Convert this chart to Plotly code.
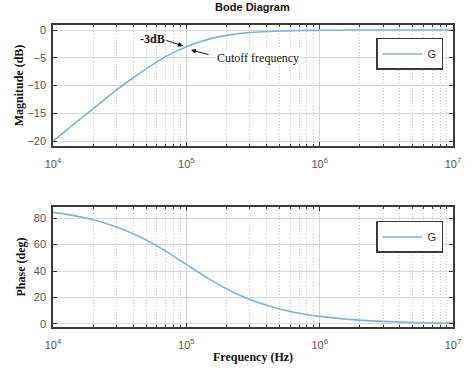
import plotly.graph_objects as go
from plotly.subplots import make_subplots

# --- data ---
freq_mag = [1e4, 1.5e4, 2e4, 3e4, 4e4, 5e4, 7e4, 1e5, 1.5e5, 2e5, 3e5, 5e5, 7e5, 1e6, 2e6, 5e6, 1e7]
mag_db = [-20.0, -16.6, -14.2, -10.8, -8.6, -7.0, -4.8, -3.0, -1.6, -0.97, -0.46, -0.17, -0.09, -0.04, -0.01, 0.0, 0.0]

freq_ph = [1e4, 1.5e4, 2e4, 3e4, 4e4, 5e4, 7e4, 1e5, 1.5e5, 2e5, 3e5, 5e5, 7e5, 1e6, 2e6, 5e6, 1e7]
phase_deg = [84.3, 81.5, 78.7, 73.3, 68.2, 63.4, 55.0, 45.0, 33.7, 26.6, 18.4, 11.3, 8.1, 5.7, 2.9, 1.1, 0.6]

decades = [4, 5, 6, 7]
decade_labels = ["10<sup>4</sup>", "10<sup>5</sup>", "10<sup>6</sup>", "10<sup>7</sup>"]
mag_ticks = [-20, -15, -10, -5, 0]
phase_ticks = [0, 20, 40, 60, 80]

line_color = "#7fb3da"
frame = "#3a3a3a"
grid = "#d6d6d6"
serif = "Liberation Serif, Times New Roman, serif"
sans = "Liberation Sans, Arial, sans-serif"

fig = make_subplots(rows=2, cols=1)

fig.add_trace(go.Scatter(x=freq_mag, y=mag_db, mode="lines", name="G",
                         line=dict(color=line_color, width=1.6, shape="spline"),
                         legend="legend"), row=1, col=1)
fig.add_trace(go.Scatter(x=freq_ph, y=phase_deg, mode="lines", name="G",
                         line=dict(color=line_color, width=1.6, shape="spline"),
                         legend="legend2"), row=2, col=1)

tickfont = dict(family=sans, size=11, color="#555555")
xcommon = dict(type="log", range=[4, 7], tickvals=[10**d for d in decades], ticktext=decade_labels,
               ticks="inside", ticklen=4, tickcolor=frame, mirror="allticks", showline=True,
               linecolor=frame, linewidth=1.5, showgrid=True, gridcolor=grid, gridwidth=1,
               zeroline=False, tickfont=tickfont, automargin=False, ticklabelstandoff=7,
               minor=dict(ticks="inside", ticklen=2.5, tickcolor=frame, showgrid=True,
                          gridcolor="#c8c8c8", griddash="1px,2px", gridwidth=1,
                          tickvals=[m * 10**d for d in decades[:-1] for m in range(2, 10)]))
fig.update_xaxes(**xcommon)
fig.update_layout(
    xaxis=dict(domain=[0, 1], anchor="y"),
    xaxis2=dict(domain=[0, 1], anchor="y2",
                title=dict(text="<b>Frequency (Hz)</b>", standoff=3,
                           font=dict(family=serif, size=12, color="#111"))),
)
ycommon = dict(ticks="inside", ticklen=4, tickcolor=frame, mirror="allticks", showline=True,
               linecolor=frame, linewidth=1.5, showgrid=True, gridcolor=grid, zeroline=False,
               tickfont=tickfont, automargin=False, ticklabelstandoff=3)
fig.update_yaxes(**ycommon)
fig.update_layout(
    yaxis=dict(domain=[0.5993, 1.0], range=[-20.9, 0.9], tickvals=mag_ticks,
               title=dict(text="<b>Magnitude (dB)</b>", standoff=1,
                          font=dict(family=serif, size=12, color="#111"))),
    yaxis2=dict(domain=[0, 0.397], range=[-2.3, 88.3], tickvals=phase_ticks,
                title=dict(text="<b>Phase (deg)</b>", standoff=6,
                           font=dict(family=serif, size=12, color="#111"))),
)

legend_style = dict(bgcolor="white", bordercolor=frame, borderwidth=1.5,
                    font=dict(family=sans, size=11, color="#333"),
                    xanchor="left", yanchor="top", itemwidth=40, tracegroupgap=0)
fig.update_layout(
    legend=dict(x=0.8075, y=0.957, **legend_style),
    legend2=dict(x=0.8075, y=0.351, **legend_style),
    showlegend=True,
)

fig.update_layout(
    width=474, height=371,
    margin=dict(l=53, r=21, t=25, b=44),
    paper_bgcolor="white", plot_bgcolor="white",
    title=dict(text="<b>Bode Diagram</b>", x=0.5325, xanchor="center", y=0.99, yanchor="top",
               font=dict(family=sans, size=11, color="#111")),
)

# arrows
fig.add_annotation(x=4.975, y=-2.88, xref="x", yref="y", ax=-18, ay=-6, text="",
                   showarrow=True, arrowhead=2, arrowsize=1, arrowwidth=1, arrowcolor="#111")
fig.add_annotation(x=5.035, y=-3.6, xref="x", yref="y", ax=19, ay=5, text="",
                   showarrow=True, arrowhead=2, arrowsize=1, arrowwidth=1, arrowcolor="#111")
# labels
fig.add_annotation(x=4.743, y=-1.62, xref="x", yref="y", text="<b>-3dB</b>", showarrow=False,
                   font=dict(family=serif, size=12, color="#111"))
fig.add_annotation(x=5.5375, y=-5.05, xref="x", yref="y", text="Cutoff frequency", showarrow=False,
                   bgcolor="white", font=dict(family=serif, size=12, color="#111"))

fig.write_html("out.html", config={"displayModeBar": False},
               post_script="document.body.style.margin='0';")
